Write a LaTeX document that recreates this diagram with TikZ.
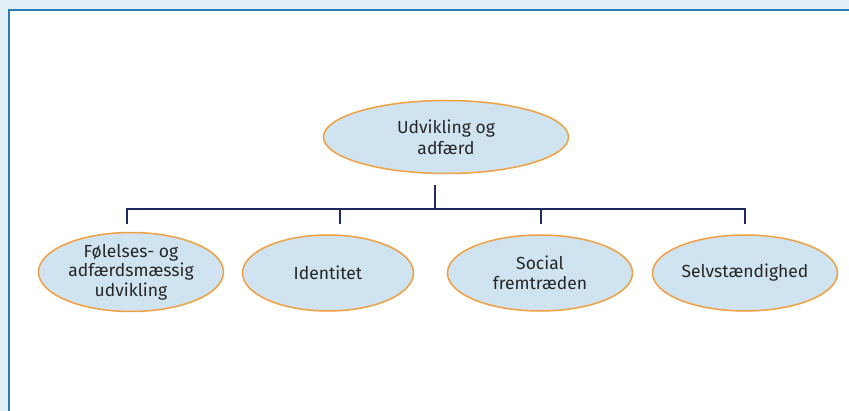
\documentclass[tikz,border=0pt]{standalone}
\usepackage{fontspec}
\setmainfont{Fira Sans}
\usetikzlibrary{shapes.geometric}
\definecolor{bgblue}{HTML}{E3EEF7}
\definecolor{frameblue}{HTML}{2A7DB4}
\definecolor{ellfill}{HTML}{CFE4F0}
\definecolor{ellline}{HTML}{F0A040}
\definecolor{navy}{HTML}{1E2B5C}
\definecolor{txt}{HTML}{262626}
\tikzset{
  oval/.style={ellipse, draw=ellline, fill=ellfill, line width=1.5pt, inner sep=0pt,
    minimum width=185pt, minimum height=76pt, align=center, text=txt,
    font=\fontsize{17.5}{19.5}\selectfont},
  conn/.style={draw=navy, line width=2pt}
}
\begin{document}
\begin{tikzpicture}[x=1pt,y=-1pt]
\useasboundingbox (0,0) rectangle (849,411);
\fill[bgblue] (0,0) rectangle (849,411);
\fill[white] (9,10) rectangle (860,420);
\draw[frameblue, line width=2pt] (9,420) -- (9,10) -- (860,10);
\node[oval, minimum width=245pt, minimum height=73pt, font=\fontsize{17.5}{21}\selectfont] (top) at (446,137) {Udvikling og\\adfærd};
\node[oval] (a) at (131,272) {Følelses- og\\adfærdsmæssig\\udvikling};
\node[oval, minimum width=171pt] (b) at (328,273) {Identitet};
\node[oval] (c) at (540,273) {Social\\fremtræden};
\node[oval] (d) at (745,273) {Selvstændighed};
\coordinate (s0) at (435,185);
\coordinate (s1) at (435,209);
\coordinate (ha) at (127,209);
\coordinate (hd) at (745,209);
\coordinate (ta) at (127,224);
\coordinate (tb) at (340,224);
\coordinate (tc) at (541,224);
\coordinate (td) at (745,224);
\draw[conn] (s0) -- (s1);
\draw[conn] (ta) -- (ha) -- (hd) -- (td);
\draw[conn] (tb) -- (tb |- s1);
\draw[conn] (tc) -- (tc |- s1);
\end{tikzpicture}
\end{document}
